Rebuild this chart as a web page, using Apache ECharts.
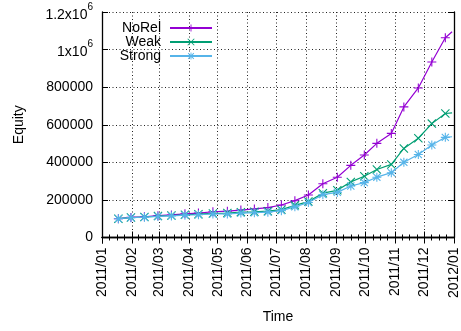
<!DOCTYPE html>
<html>
<head>
<meta charset="utf-8">
<script src="https://cdn.jsdelivr.net/npm/echarts@6/dist/echarts.min.js"></script>
<style>
html,body{margin:0;padding:0;background:#fff;}
#chart{width:461px;height:331px;}
</style>
</head>
<body>
<div id="chart"></div>
<script>
// Sample dates (markers every ~10 trading days), last point is the final day without marker
var dates = ['2011-01-18','2011-01-31','2011-02-14','2011-02-28','2011-03-14','2011-03-28',
  '2011-04-11','2011-04-26','2011-05-11','2011-05-25','2011-06-08','2011-06-22','2011-07-06',
  '2011-07-20','2011-08-03','2011-08-18','2011-09-02','2011-09-16','2011-09-30','2011-10-13',
  '2011-10-28','2011-11-10','2011-11-25','2011-12-09','2011-12-23','2011-12-30'];
var noRel = [100000,107000,110000,116000,120000,126000,130000,137000,140000,146000,152000,159000,173000,
  196000,226000,286000,321000,384000,439000,501000,554000,695000,796000,934000,1063000,1095000];
var weak = [100000,106000,109000,114000,117000,121000,124000,128000,130000,135000,137000,140000,148000,
  171000,191000,236000,251000,296000,326000,362000,389000,474000,528000,606000,660000,663000];
var strong = [100000,105000,108000,112000,115000,119000,121000,125000,125000,130000,132000,135000,143000,
  163000,186000,228000,240000,274000,292000,321000,345000,400000,442000,492000,533000,536000];
var seriesNames = ['NoRel','Weak','Strong'];
var seriesColors = ['#9400d3','#009e73','#56b4e9'];
var yTickLabels = {0:'0',200000:'200000',400000:'400000',600000:'600000',800000:'800000',
  1000000:'{m|1x10}{e|6}',1200000:'{m|1.2x10}{e|6}'};

var plusPath = 'path://M4.4,0H5.6V10H4.4Z M0,4.4H10V5.6H0Z';
var crossPath = 'path://M0,0.85L0.85,0L10,9.15L9.15,10Z M9.15,0L10,0.85L0.85,10L0,9.15Z';
var starPath = 'path://M4.4,0H5.6V10H4.4Z M0,4.4H10V5.6H0Z M0.6,1.45L1.45,0.6L9.4,8.55L8.55,9.4Z M8.55,0.6L9.4,1.45L1.45,9.4L0.6,8.55Z';
var symbols = [plusPath, crossPath, starPath];

function build(vals){
  return dates.map(function(d,i){
    var item = {value:[d, vals[i]]};
    if (i === dates.length-1) item.symbol = 'none';
    return item;
  });
}
var allVals = [noRel, weak, strong];
var FONT = 'Liberation Sans, Arial, sans-serif';

var series = seriesNames.map(function(n,i){
  return {
    name:n, type:'line', xAxisIndex:0, yAxisIndex:0,
    data: build(allVals[i]),
    symbol: symbols[i], symbolSize: 9, showAllSymbol:true,
    lineStyle:{color:seriesColors[i], width:1.2},
    itemStyle:{color:seriesColors[i]},
    emphasis:{disabled:true}, animation:false, z: 2+i
  };
});

var legendRows = [21, 35, 49];
var legends = seriesNames.map(function(n,i){
  return {
    data:[n], orient:'vertical', align:'right', right:248, top:legendRows[i],
    padding:0, itemWidth:42, itemHeight:9, selectedMode:false,
    textStyle:{fontSize:14, color:'#000', fontFamily:FONT, padding:[0,4,0,0]}
  };
});

var grid = {left:102, right:7, top:12, bottom:93.5};
var tStart = '2011-01-01', tEnd = '2012-01-01';

var option = {
  backgroundColor:'#fff',
  animation:false,
  grid: grid,
  legend: legends,
  xAxis: [{
    type:'time', min:tStart, max:tEnd, splitNumber:12, position:'bottom',
    name:'Time', nameLocation:'middle', nameGap:73,
    nameTextStyle:{fontSize:14, color:'#000', fontFamily:FONT},
    axisLine:{show:true, lineStyle:{color:'#000', width:1.3}},
    axisTick:{show:true, inside:true, length:6, lineStyle:{color:'#000'}},
    minorTick:{show:true, splitNumber:4, length:3, lineStyle:{color:'#000'}},
    axisLabel:{rotate:90, margin:10, fontSize:14, color:'#000', fontFamily:FONT,
      formatter:'{yyyy}/{MM}', showMinLabel:true, showMaxLabel:true, hideOverlap:false},
    splitLine:{show:true, lineStyle:{color:'#222', type:[1,2.5], width:1}}
  },{
    type:'time', min:tStart, max:tEnd, splitNumber:12, position:'top',
    axisLine:{show:true, lineStyle:{color:'#000', width:1.3}},
    axisTick:{show:true, inside:true, length:6, lineStyle:{color:'#000'}},
    minorTick:{show:true, splitNumber:4, length:3, lineStyle:{color:'#000'}},
    axisLabel:{show:false}, splitLine:{show:false}
  }],
  yAxis: [{
    type:'value', min:0, max:1200000, interval:200000, position:'left',
    name:'Equity', nameLocation:'middle', nameGap:76, nameRotate:90,
    nameTextStyle:{fontSize:14, color:'#000', fontFamily:FONT},
    axisLine:{show:true, lineStyle:{color:'#000', width:1.3}},
    axisTick:{show:true, inside:true, length:6, lineStyle:{color:'#000'}},
    axisLabel:{margin:9, fontSize:14, color:'#000', fontFamily:FONT,
      formatter:function(v){ return yTickLabels[v] !== undefined ? yTickLabels[v] : String(v); },
      rich:{
        m:{fontSize:14, color:'#000', fontFamily:FONT, lineHeight:20, verticalAlign:'bottom'},
        e:{fontSize:10, color:'#000', fontFamily:FONT, lineHeight:12, verticalAlign:'top'}
      }},
    splitLine:{show:true, lineStyle:{color:'#222', type:[1,2.5], width:1}}
  },{
    type:'value', min:0, max:1200000, interval:200000, position:'right',
    axisLine:{show:true, lineStyle:{color:'#000', width:1.3}},
    axisTick:{show:true, inside:true, length:6, lineStyle:{color:'#000'}},
    axisLabel:{show:false}, splitLine:{show:false}
  }],
  series: series
};
var chart = echarts.init(document.getElementById('chart'), null, {renderer:'canvas'});
chart.setOption(option);
</script>
</body>
</html>
